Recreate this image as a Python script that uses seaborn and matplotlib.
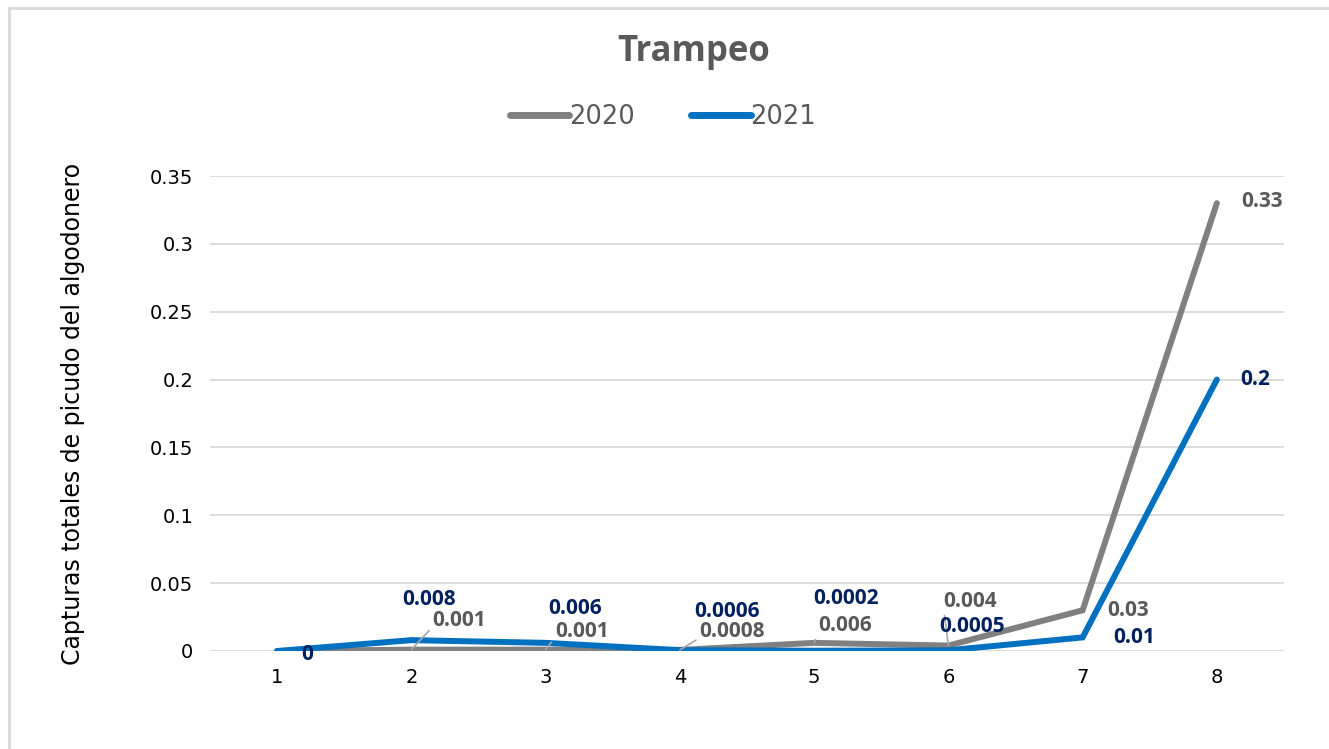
"""Trampeo: capturas totales de picudo del algodonero, 2020 vs 2021."""

import matplotlib

matplotlib.use("Agg")
import matplotlib.pyplot as plt
import numpy as np
import pandas as pd
import seaborn as sns
from matplotlib.lines import Line2D

# data
weeks = [1, 2, 3, 4, 5, 6, 7, 8]
captures_2020 = [0, 0.001, 0.001, 0.0008, 0.006, 0.004, 0.03, 0.33]
captures_2021 = [0, 0.008, 0.006, 0.0006, 0.0002, 0.0005, 0.01, 0.2]
labels_2020 = ["", "0.001", "0.001", "0.0008", "0.006", "0.004", "0.03", "0.33"]
labels_2021 = ["0", "0.008", "0.006", "0.0006", "0.0002", "0.0005", "0.01", "0.2"]
y_ticks = [0, 0.05, 0.1, 0.15, 0.2, 0.25, 0.3, 0.35]
y_tick_labels = ["0", "0.05", "0.1", "0.15", "0.2", "0.25", "0.3", "0.35"]

# label offsets in pixels (style only) and whether a leader line is drawn
offsets_2020 = [(0, 0), (48, 29), (36, 18), (52, 18), (31, 17), (22, 44), (45, 0), (45, 2)]
leaders_2020 = [False, True, True, True, True, True, False, False]
offsets_2021 = [(30, -3), (18, 41), (29, 34), (47, 39), (32, 52), (24, 24), (52, 0), (38, 0)]

GREY = "#808080"
BLUE = "#0070C0"
GREY_TEXT = "#595959"
NAVY = "#002060"

sns.set_theme(style="white")
plt.rcParams["font.family"] = ["DejaVu Sans"]

df = pd.DataFrame(
    {
        "week": weeks * 2,
        "captures": captures_2020 + captures_2021,
        "year": ["2020"] * len(weeks) + ["2021"] * len(weeks),
    }
)

fig = plt.figure(figsize=(13.29, 7.49), dpi=100)
ax = fig.add_axes([210 / 1329, 1 - 651 / 749, 1074 / 1329, 475 / 749])

sns.lineplot(
    data=df,
    x="week",
    y="captures",
    hue="year",
    palette={"2020": GREY, "2021": BLUE},
    linewidth=4.3,
    ax=ax,
    legend=False,
    solid_capstyle="round",
    solid_joinstyle="miter",
)

ax.set_xlim(0.5, 8.5)
ax.set_ylim(0, 0.35)
ax.set_xticks(weeks)
ax.set_xticklabels([str(w) for w in weeks])
ax.set_yticks(y_ticks)
ax.set_yticklabels(y_tick_labels)
ax.tick_params(axis="both", length=0, labelsize=14, colors="#000000")
ax.tick_params(axis="y", pad=12)
ax.tick_params(axis="x", pad=12)
ax.yaxis.grid(True, color="#D9D9D9", linewidth=1.3)
ax.xaxis.grid(False)
for spine in ax.spines.values():
    spine.set_visible(False)
ax.set_xlabel("")
ax.set_ylabel("Capturas totales de picudo del algodonero", fontsize=17, color="#000000")
ax.yaxis.set_label_coords(-125 / 1074, 0.5)

label_font = ["Open Sans", "DejaVu Sans"]
for x, y, text, (dx, dy), lead in zip(weeks, captures_2020, labels_2020, offsets_2020, leaders_2020):
    if not text:
        continue
    arrow = None
    if lead:
        arrow = dict(arrowstyle="-", color="#A6A6A6", lw=1.2, shrinkA=0, shrinkB=0, relpos=(0.0, 0.2))
    ax.annotate(
        text, (x, y), xytext=(dx, dy), textcoords="offset pixels",
        ha="center", va="center", fontsize=15, fontweight="bold",
        color=GREY_TEXT, family=label_font, arrowprops=arrow,
    )

for x, y, text, (dx, dy) in zip(weeks, captures_2021, labels_2021, offsets_2021):
    ax.annotate(
        text, (x, y), xytext=(dx, dy), textcoords="offset pixels",
        ha="center", va="center", fontsize=15, fontweight="bold",
        color=NAVY, family=label_font,
    )

fig.text(0.522, 1 - 52 / 749, "Trampeo", ha="center", va="center",
         fontsize=25, fontweight="bold", color=GREY_TEXT, family=label_font)

handles = [
    Line2D([], [], color=GREY, lw=5, solid_capstyle="round"),
    Line2D([], [], color=BLUE, lw=5, solid_capstyle="round"),
]
fig.legend(
    handles, ["2020", "2021"], loc="center", bbox_to_anchor=(0.499, 1 - 117 / 749),
    ncol=2, frameon=False, fontsize=18.5, handlelength=2.3, handletextpad=0.0,
    columnspacing=2.2, labelcolor=GREY_TEXT,
)

# light chart frame, only top and left edges fall inside the picture
fig.add_artist(Line2D([9 / 1329, 1], [1 - 8 / 749] * 2, color="#D9D9D9", lw=2, transform=fig.transFigure))
fig.add_artist(Line2D([9 / 1329] * 2, [0, 1 - 8 / 749], color="#D9D9D9", lw=2, transform=fig.transFigure))

fig.savefig("out.png", dpi=100, facecolor="white")
